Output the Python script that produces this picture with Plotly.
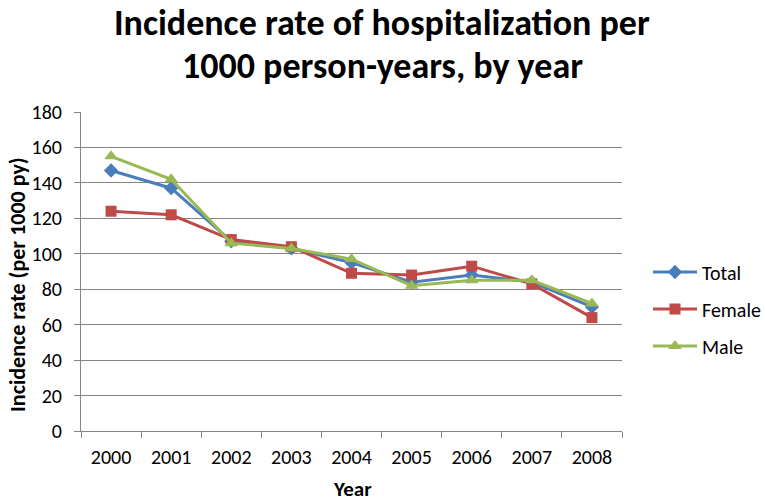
import plotly.graph_objects as go

years = ["2000", "2001", "2002", "2003", "2004", "2005", "2006", "2007", "2008"]
total = [147, 137, 107, 103, 95, 84, 88, 84, 70]
female = [124, 122, 108, 104, 89, 88, 93, 83, 64]
male = [155, 142, 106, 103, 97, 82, 85, 85, 72]

FONT = "Carlito, Lato, sans-serif"
L, R, T, B = 81, 143, 112, 70
W, H = 765, 501
PW, PH = W - L - R, H - T - B


def px_x(px):
    return (px - L) / PW


def px_y(py):
    return (H - B - py) / PH


fig = go.Figure()
series = [
    ("Total", total, "#4A7EBB", "diamond", 11),
    ("Female", female, "#BE4B48", "square", 11),
    ("Male", male, "#98B954", "triangle-up", 12),
]
for name, vals, color, sym, size in series:
    fig.add_trace(go.Scatter(
        x=years, y=vals, name=name, mode="lines+markers",
        line=dict(color=color, width=3),
        marker=dict(symbol=sym, size=size, color=color),
        legendgroup=name,
    ))

title_lines = ["Incidence rate of hospitalization per", "1000 person-years, by year"]
for i, line in enumerate(title_lines):
    fig.add_annotation(
        text="<b>" + line + "</b>",
        xref="paper", yref="paper",
        x=px_x(382), xanchor="center",
        y=px_y(23 + 43 * i), yanchor="middle",
        showarrow=False,
        font=dict(size=36, family=FONT, color="black"),
    )

fig.add_annotation(
    text="<b>Incidence rate (per 1000 py)</b>",
    xref="paper", yref="paper",
    x=px_x(17), xanchor="center",
    y=px_y(285), yanchor="middle",
    textangle=-90, showarrow=False,
    font=dict(size=22, family=FONT, color="black"),
)
fig.add_annotation(
    text="<b>Year</b>",
    xref="paper", yref="paper",
    x=px_x(352), xanchor="center",
    y=px_y(489), yanchor="middle",
    showarrow=False,
    font=dict(size=21, family=FONT, color="black"),
)

fig.update_layout(
    width=W, height=H,
    margin=dict(l=L, r=R, t=T, b=B, autoexpand=False),
    paper_bgcolor="white", plot_bgcolor="white",
    font=dict(family=FONT, color="black", size=20),
    showlegend=True,
    legend=dict(
        x=px_x(648), xanchor="left", y=px_y(309), yanchor="middle",
        font=dict(size=20, family=FONT, color="black"),
        tracegroupgap=8, bgcolor="rgba(0,0,0,0)", itemwidth=44,
    ),
)
fig.update_xaxes(
    type="category", range=[-0.5, len(years) - 0.5],
    showgrid=False, showline=True, linecolor="#868686", linewidth=1,
    ticks="outside", tickson="boundaries", ticklen=6, tickcolor="#868686",
    tickfont=dict(size=20, family=FONT), ticklabelstandoff=8, automargin=False,
)
fig.update_yaxes(
    range=[0, 180], dtick=20, showgrid=True, gridcolor="#868686", gridwidth=1,
    showline=True, linecolor="#868686", linewidth=1,
    ticks="outside", ticklen=6, tickcolor="#868686",
    tickfont=dict(size=20, family=FONT), zeroline=False,
    ticklabelstandoff=8, automargin=False,
)

fig.write_html(
    "out.html",
    config={"displayModeBar": False},
    post_script="document.body.style.margin='0';",
)
